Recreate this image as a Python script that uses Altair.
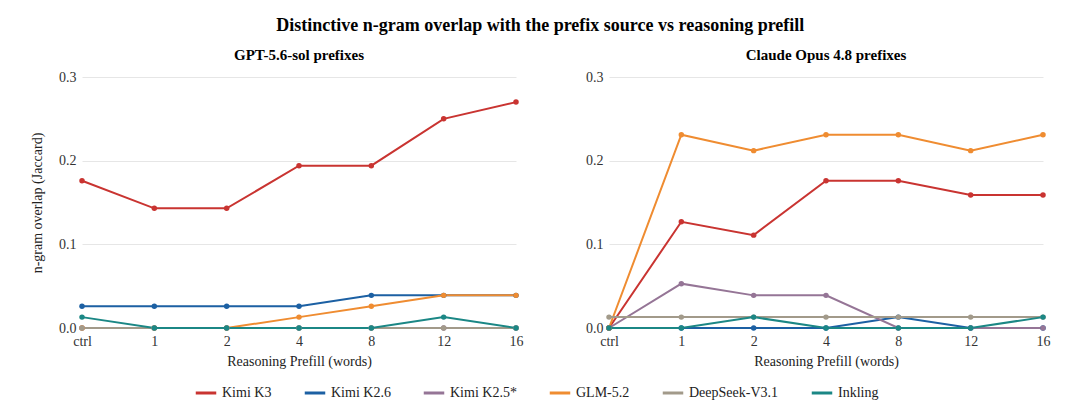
import altair as alt
import pandas as pd

steps = ["ctrl", "1", "2", "4", "8", "12", "16"]
series = ["Kimi K3", "Kimi K2.6", "Kimi K2.5*", "GLM-5.2", "DeepSeek-V3.1", "Inkling"]
colors = ["#c93431", "#1c60a3", "#957596", "#ef8c31", "#a29a8a", "#1b8785"]

# GPT-5.6-sol prefixes
gpt_kimi_k3 = [0.176, 0.143, 0.143, 0.194, 0.194, 0.250, 0.270]
gpt_kimi_k26 = [0.026, 0.026, 0.026, 0.026, 0.039, 0.039, 0.039]
gpt_kimi_k25 = [0.0, 0.0, 0.0, 0.0, 0.0, 0.0, 0.0]
gpt_glm = [0.0, 0.0, 0.0, 0.013, 0.026, 0.039, 0.039]
gpt_deepseek = [0.0, 0.0, 0.0, 0.0, 0.0, 0.0, 0.0]
gpt_inkling = [0.013, 0.0, 0.0, 0.0, 0.0, 0.013, 0.0]

# Claude Opus 4.8 prefixes
cl_kimi_k3 = [0.0, 0.127, 0.111, 0.176, 0.176, 0.159, 0.159]
cl_kimi_k26 = [0.0, 0.0, 0.0, 0.0, 0.013, 0.0, 0.0]
cl_kimi_k25 = [0.0, 0.053, 0.039, 0.039, 0.0, 0.0, 0.0]
cl_glm = [0.0, 0.231, 0.212, 0.231, 0.231, 0.212, 0.231]
cl_deepseek = [0.013, 0.013, 0.013, 0.013, 0.013, 0.013, 0.013]
cl_inkling = [0.0, 0.0, 0.013, 0.0, 0.0, 0.0, 0.013]

gpt_vals = [gpt_kimi_k3, gpt_kimi_k26, gpt_kimi_k25, gpt_glm, gpt_deepseek, gpt_inkling]
cl_vals = [cl_kimi_k3, cl_kimi_k26, cl_kimi_k25, cl_glm, cl_deepseek, cl_inkling]


def make_df(vals):
    rows = []
    for si, (name, v) in enumerate(zip(series, vals)):
        for xi, (s, y) in enumerate(zip(steps, v)):
            rows.append({"step": s, "value": y, "model": name, "order": si, "xi": xi})
    return pd.DataFrame(rows)


FONT = "Liberation Serif"


def panel(vals, title, show_ytitle):
    df = make_df(vals)
    x = alt.X("step:N", sort=steps, scale=alt.Scale(type="point", padding=0),
              axis=alt.Axis(title="Reasoning Prefill (words)", labelAngle=0, domain=False,
                            ticks=False, grid=False, labelPadding=6, titlePadding=6))
    y = alt.Y("value:Q", scale=alt.Scale(domain=[0, 0.3], nice=False),
              axis=alt.Axis(title="n-gram overlap (Jaccard)" if show_ytitle else None,
                            values=[0, 0.1, 0.2, 0.3], format=".1f", domain=False, ticks=False,
                            grid=True, gridColor="#e6e6e6", labelPadding=6, titlePadding=14))
    color = alt.Color("model:N", scale=alt.Scale(domain=series, range=colors),
                      legend=alt.Legend(title=None, orient="none", direction="horizontal",
                                        legendX=112, legendY=304,
                                        symbolType="stroke", symbolStrokeWidth=3,
                                        symbolSize=420, labelFontSize=14, labelFont=FONT,
                                        labelColor="#222222",
                                        columnPadding=26, labelLimit=200))
    base = alt.Chart(df)
    lines = base.mark_line(strokeWidth=2).encode(x=x, y=y, color=color, order="xi:Q",
                                                  detail="model:N")
    pts = base.mark_circle(size=30, opacity=1).encode(
        x=x, y=y, color=alt.Color("model:N", scale=alt.Scale(domain=series, range=colors),
                                  legend=None))
    return alt.layer(lines, pts).properties(
        width=434, height=251,
        title=alt.TitleParams(title, fontSize=15, font=FONT, fontWeight="bold", offset=7))


left = panel(gpt_vals, "GPT-5.6-sol prefixes", True)
right = panel(cl_vals, "Claude Opus 4.8 prefixes", False)

chart = alt.hconcat(left, right, spacing=62).resolve_scale(color="shared").properties(
    title=alt.TitleParams("Distinctive n-gram overlap with the prefix source vs reasoning prefill",
                          fontSize=18, font=FONT, fontWeight="bold", anchor="middle", offset=13),
    padding={"left": 22, "top": 9, "right": 5, "bottom": 5},
    background="white",
).configure_view(stroke=None).configure_axis(
    labelFont=FONT, titleFont=FONT, labelFontSize=14, titleFontSize=14,
    labelColor="#333333", titleColor="#222222", titleFontWeight="normal"
)

chart.save("out.html", embed_options={"renderer": "svg", "actions": False})
